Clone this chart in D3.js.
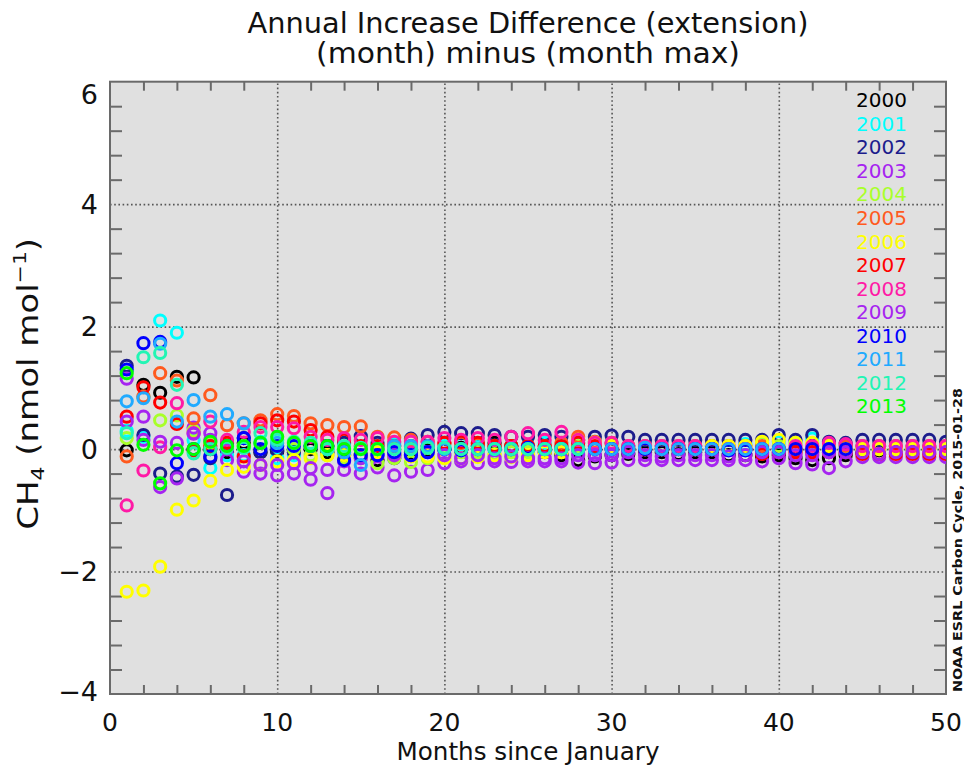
<!DOCTYPE html>
<html>
<head>
<meta charset="utf-8">
<script src="https://cdn.jsdelivr.net/npm/d3@7"></script>
<style>
  body { margin: 0; background: #fff; }
  text { font-family: "DejaVu Sans", "Liberation Sans", sans-serif; }
</style>
</head>
<body>
<script>
// years shown in the legend and their plot colours
const years = ["2000", "2001", "2002", "2003", "2004", "2005", "2006",
  "2007", "2008", "2009", "2010", "2011", "2012", "2013"];
const yearColors = ["#000000", "#00ffff", "#1c1c8c", "#a624f0", "#a8ff2a",
  "#ff5a1e", "#ffff00", "#ff0000", "#ff1aa6", "#a624f0", "#0000ff",
  "#20aaff", "#22f5b4", "#00ff00"];

// difference values (nmol/mol) per month since January, month 1 first
const v2000 = [-0.02, 1.05, 0.92, 1.18, 1.17, 0.0, -0.05, 0.1, -0.05, -0.04,
  -0.05, 0.0, -0.05, -0.1, -0.1, -0.18, -0.1, -0.05, -0.02, 0.0,
  0.02, 0.05, 0.1, 0.05, 0.0, -0.05, -0.1, -0.18, -0.12, -0.1,
  -0.08, -0.05, -0.05, -0.08, -0.05, -0.05, -0.1, -0.1, -0.12, -0.1,
  -0.15, -0.18, -0.15, -0.1, -0.05, -0.02, 0.0, 0.0, 0.02, 0.0];
const v2001 = [0.3, 0.2, 2.1, 1.9, 0.15, -0.31, -0.1, -0.1, 0.12, -0.15,
  -0.1, 0.05, 0.0, -0.05, 0.0, 0.05, 0.08, 0.05, 0.05, 0.05,
  0.08, 0.05, 0.05, 0.0, 0.05, 0.1, 0.05, 0.1, 0.12, 0.1,
  0.05, 0.05, 0.05, 0.05, 0.05, 0.05, 0.05, 0.08, 0.1, 0.12,
  0.1, 0.17, 0.1, 0.05, 0.05, 0.05, 0.05, 0.05, 0.05, 0.05];
const v2002 = [1.36, 0.23, -0.4, -0.45, -0.42, -0.15, -0.75, 0.18, -0.05, -0.02,
  -0.05, 0.05, 0.05, 0.1, 0.21, 0.1, -0.15, 0.17, 0.23, 0.28,
  0.26, 0.26, 0.23, 0.2, 0.2, 0.23, 0.2, 0.15, 0.2, 0.22,
  0.2, 0.15, 0.15, 0.15, 0.15, 0.15, 0.15, 0.15, 0.15, 0.23,
  0.15, 0.23, 0.12, 0.1, 0.15, 0.15, 0.15, 0.15, 0.15, 0.12];
const v2003 = [1.15, 0.15, -0.62, -0.48, 0.35, 0.26, -0.18, -0.37, -0.4, -0.43,
  -0.4, -0.5, -0.72, -0.34, -0.4, -0.3, -0.43, -0.37, -0.34, -0.23,
  -0.2, -0.23, -0.2, -0.21, -0.2, -0.2, -0.2, -0.22, -0.23, -0.22,
  -0.18, -0.18, -0.18, -0.18, -0.18, -0.18, -0.18, -0.18, -0.2, -0.15,
  -0.23, -0.25, -0.31, -0.2, -0.13, -0.13, -0.13, -0.13, -0.13, -0.13];
const v2004 = [0.18, 0.85, 0.47, 0.55, 0.3, 0.1, 0.1, 0.05, 0.1, 0.05,
  0.0, -0.1, -0.1, -0.15, -0.15, -0.23, -0.15, -0.21, -0.15, -0.1,
  -0.05, -0.05, -0.08, -0.05, -0.05, -0.02, 0.0, 0.05, 0.0, 0.0,
  0.0, 0.0, 0.0, 0.0, 0.0, 0.0, 0.0, 0.05, 0.1, 0.05,
  0.0, 0.0, 0.0, 0.0, 0.0, 0.0, 0.0, 0.0, 0.0, 0.0];
const v2005 = [-0.12, 0.86, 1.24, 1.12, 0.5, 0.88, 0.39, 0.42, 0.47, 0.57,
  0.54, 0.42, 0.39, 0.36, 0.37, 0.2, 0.19, 0.15, 0.12, 0.1,
  0.1, 0.08, 0.05, 0.05, 0.05, 0.05, 0.1, 0.2, 0.12, 0.1,
  0.05, 0.05, 0.05, 0.05, 0.05, 0.05, 0.05, 0.05, 0.05, 0.0,
  0.0, 0.0, 0.05, 0.05, 0.05, 0.05, 0.05, 0.05, 0.05, 0.05];
const v2006 = [-2.33, -2.31, -1.92, -0.99, -0.84, -0.52, -0.34, -0.29, -0.26, -0.2,
  -0.18, -0.15, -0.1, -0.1, -0.1, -0.05, -0.1, -0.12, -0.12, -0.15,
  -0.15, -0.13, -0.1, -0.13, -0.1, -0.05, -0.05, 0.15, 0.1, 0.05,
  0.0, 0.0, 0.0, 0.0, 0.0, 0.05, 0.05, 0.05, 0.12, 0.15,
  0.1, 0.1, 0.05, 0.0, 0.0, 0.0, 0.0, 0.0, 0.0, 0.0];
const v2007 = [0.53, 1.01, 0.76, 0.41, -0.02, 0.05, 0.1, -0.12, 0.42, 0.47,
  0.45, 0.31, 0.2, 0.15, 0.05, 0.05, 0.05, 0.05, 0.05, 0.1,
  0.12, 0.1, 0.05, 0.05, 0.05, 0.05, 0.05, 0.1, 0.05, 0.0,
  0.0, 0.0, 0.0, 0.0, 0.0, 0.0, 0.0, 0.0, -0.08, -0.05,
  -0.05, -0.05, -0.05, -0.05, -0.08, -0.08, -0.08, -0.08, -0.08, -0.08];
const v2008 = [-0.92, -0.35, 0.03, 0.75, 0.26, 0.45, 0.15, 0.28, 0.36, 0.36,
  0.34, 0.2, 0.15, 0.18, 0.15, 0.18, 0.12, 0.12, 0.12, 0.18,
  0.15, 0.18, 0.15, 0.2, 0.26, 0.15, 0.28, 0.15, 0.1, 0.1,
  0.05, 0.05, 0.05, 0.05, 0.05, 0.0, 0.0, 0.0, 0.0, 0.0,
  0.05, 0.05, 0.1, 0.08, 0.05, 0.05, 0.05, 0.05, 0.05, 0.05];
const v2009 = [0.45, 0.53, 0.12, 0.1, 0.25, 0.15, 0.0, -0.2, -0.26, -0.26,
  -0.23, -0.31, -0.34, -0.2, -0.15, -0.1, -0.1, -0.1, -0.05, -0.1,
  -0.15, -0.1, -0.15, -0.12, -0.15, -0.15, -0.15, -0.1, -0.1, -0.1,
  -0.05, -0.1, -0.12, -0.1, -0.1, -0.1, -0.12, -0.1, -0.05, -0.05,
  -0.1, -0.1, -0.05, -0.05, -0.05, -0.08, -0.05, -0.05, -0.05, -0.05];
const v2010 = [1.3, 1.73, 1.75, -0.23, 0.0, -0.12, 0.05, 0.18, 0.0, 0.05,
  0.05, 0.05, 0.05, -0.18, -0.1, -0.1, -0.05, -0.1, -0.05, 0.0,
  -0.02, 0.0, 0.0, 0.0, 0.02, 0.0, 0.0, 0.0, 0.0, 0.0,
  0.0, 0.0, 0.0, 0.0, 0.0, 0.0, -0.02, -0.02, 0.0, 0.0,
  0.0, 0.0, 0.0, 0.0];
const v2011 = [0.78, 0.83, 1.72, 0.45, 0.8, 0.53, 0.57, 0.42, 0.1, 0.1,
  0.1, 0.05, 0.0, -0.05, -0.26, 0.0, 0.05, 0.05, 0.05, 0.0,
  0.0, 0.0, 0.0, 0.0, 0.0, 0.0, 0.0, 0.0, 0.0, 0.0,
  0.0, 0.02, 0.0, 0.0, 0.0, 0.0, 0.0, 0.0, 0.0, 0.0];
const v2012 = [0.26, 1.5, 1.57, 1.05, -0.07, 0.0, 0.02, 0.02, 0.26, 0.15,
  0.12, 0.1, 0.0, 0.05, 0.02, 0.0, 0.0, 0.0, 0.02, 0.02,
  0.0, 0.0, 0.0, 0.0, 0.0, 0.0, 0.0, 0.0];
const v2013 = [1.24, 0.07, -0.56, -0.02, 0.0, 0.12, 0.05, 0.05, 0.1, 0.2,
  0.1, 0.05, 0.05, 0.0, 0.0, 0.0];

const series = [v2000, v2001, v2002, v2003, v2004, v2005, v2006,
  v2007, v2008, v2009, v2010, v2011, v2012, v2013];

const xMajor = [0, 10, 20, 30, 40, 50];
const yMajor = [-4, -2, 0, 2, 4, 6];

const W = 964, H = 767;
const L = 110, R = 946, T = 81.7, B = 694;

const x = d3.scaleLinear().domain([0, 50]).range([L, R]);
const y = d3.scaleLinear().domain([-4, 6]).range([B, T]);

const svg = d3.select("body").append("svg")
  .attr("width", W).attr("height", H)
  .attr("viewBox", [0, 0, W, H]);

svg.append("rect")
  .attr("x", L).attr("y", T).attr("width", R - L).attr("height", B - T)
  .attr("fill", "#e0e0e0");

svg.append("clipPath").attr("id", "plot")
  .append("rect")
  .attr("x", L).attr("y", T).attr("width", R - L).attr("height", B - T);

// minor ticks, all pointing inward
const xMinor = d3.range(2, 50, 2).filter(d => d % 10 !== 0);
const yMinor = d3.range(-3.6, 6, 0.4).filter(d => Math.abs(d / 2 - Math.round(d / 2)) > 0.01);

const tickStyle = g => {
  g.select(".domain").remove();
  g.selectAll(".tick line").attr("stroke", "#6a6a6a").attr("stroke-width", 2);
  g.selectAll(".tick text").remove();
};

svg.append("g").attr("transform", `translate(0,${B})`)
  .call(d3.axisBottom(x).tickValues(xMinor).tickSize(-9)).call(tickStyle);
svg.append("g").attr("transform", `translate(0,${T})`)
  .call(d3.axisTop(x).tickValues(xMinor).tickSize(-9)).call(tickStyle);
svg.append("g").attr("transform", `translate(${L},0)`)
  .call(d3.axisLeft(y).tickValues(yMinor).tickSize(-12)).call(tickStyle);
svg.append("g").attr("transform", `translate(${R},0)`)
  .call(d3.axisRight(y).tickValues(yMinor).tickSize(-12)).call(tickStyle);

// dotted grid at the major ticks
const gridStyle = g => {
  g.select(".domain").remove();
  g.selectAll(".tick line").attr("stroke", "#555")
    .attr("stroke-width", 1.6).attr("stroke-dasharray", "1.6,2.6");
  g.selectAll(".tick text").remove();
};
svg.append("g").attr("transform", `translate(0,${B})`)
  .call(d3.axisBottom(x).tickValues([10, 20, 30, 40]).tickSize(-(B - T))).call(gridStyle);
svg.append("g").attr("transform", `translate(${L},0)`)
  .call(d3.axisLeft(y).tickValues([-2, 0, 2, 4]).tickSize(-(R - L))).call(gridStyle);

// frame
svg.append("rect")
  .attr("x", L).attr("y", T).attr("width", R - L).attr("height", B - T)
  .attr("fill", "none").attr("stroke", "#6a6a6a").attr("stroke-width", 2);

// points
const pts = svg.append("g").attr("clip-path", "url(#plot)")
  .attr("fill", "none").attr("stroke-width", 3);
series.forEach((vals, i) => {
  pts.append("g").attr("stroke", yearColors[i])
    .selectAll("circle")
    .data(vals)
    .join("circle")
    .attr("cx", (d, j) => x(j + 1))
    .attr("cy", d => y(d))
    .attr("r", 5.6);
});

// tick labels
svg.append("g").selectAll("text").data(xMajor).join("text")
  .attr("x", d => x(d)).attr("y", 731)
  .attr("text-anchor", "middle").attr("font-size", 25)
  .attr("fill", "#111")
  .text(d => d);

// top label sits below its tick, bottom one slightly above, as in the original
svg.append("g").selectAll("text").data(yMajor).join("text")
  .attr("x", 98).attr("y", d => y(d) + (d === 6 ? 13 : d === -4 ? -3 : 0))
  .attr("dy", "0.36em")
  .attr("text-anchor", "end").attr("font-size", 27)
  .attr("fill", "#111")
  .text(d => d < 0 ? "\u2212" + Math.abs(d) : d);

// titles
svg.append("text").attr("x", 528).attr("y", 33)
  .attr("text-anchor", "middle").attr("font-size", 28).attr("fill", "#111")
  .attr("textLength", 561).attr("lengthAdjust", "spacingAndGlyphs")
  .text("Annual Increase Difference (extension)");
svg.append("text").attr("x", 528).attr("y", 63)
  .attr("text-anchor", "middle").attr("font-size", 28).attr("fill", "#111")
  .attr("textLength", 424).attr("lengthAdjust", "spacingAndGlyphs")
  .text("(month) minus (month max)");

svg.append("text").attr("x", 528).attr("y", 760)
  .attr("text-anchor", "middle").attr("font-size", 25).attr("fill", "#111")
  .attr("textLength", 263).attr("lengthAdjust", "spacingAndGlyphs")
  .text("Months since January");

// y axis label with subscript and superscript
const yl = svg.append("text")
  .attr("transform", `translate(38,${(T + B) / 2 - 4}) rotate(-90)`)
  .attr("text-anchor", "middle").attr("font-size", 28).attr("fill", "#111")
  .attr("textLength", 292).attr("lengthAdjust", "spacingAndGlyphs");
yl.append("tspan").text("CH");
yl.append("tspan").attr("font-size", 18).attr("dy", 6).text("4");
yl.append("tspan").attr("dy", -6).text(" (nmol mol");
yl.append("tspan").attr("font-size", 18).attr("dy", -12).text("\u22121");
yl.append("tspan").attr("dy", 12).text(")");

// credit along the right edge
svg.append("text")
  .attr("transform", `translate(962,${B - 2}) rotate(-90)`)
  .attr("font-size", 13).attr("font-weight", "bold").attr("fill", "#111")
  .attr("textLength", 304).attr("lengthAdjust", "spacingAndGlyphs")
  .text("NOAA ESRL Carbon Cycle, 2015-01-28");

// legend
svg.append("g").selectAll("text").data(years).join("text")
  .attr("x", 856).attr("y", (d, i) => 107.3 + i * 23.54)
  .attr("font-size", 20)
  .attr("fill", (d, i) => yearColors[i])
  .text(d => d);
</script>
</body>
</html>
